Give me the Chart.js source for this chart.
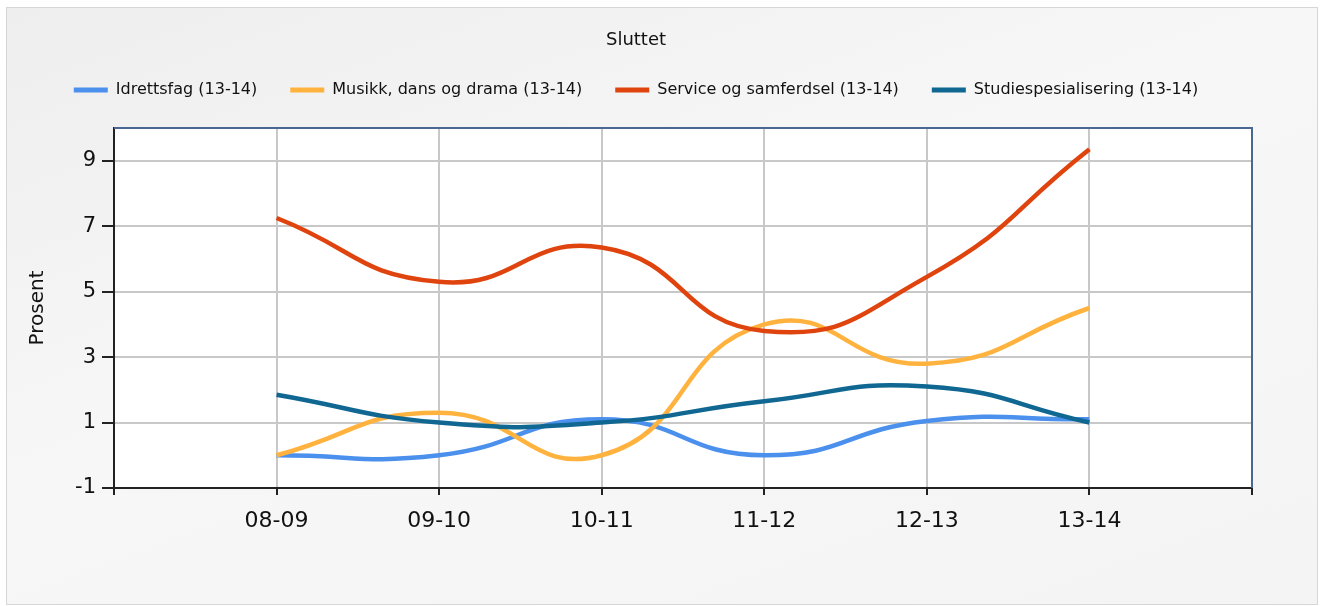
<!DOCTYPE html>
<html lang="no">
<head>
  <meta charset="UTF-8" />
  <title>Sluttet</title>
  <script src="https://cdn.jsdelivr.net/npm/chart.js"></script>
  <style>
    html, body {
      margin: 0;
      padding: 0;
      background: #ffffff;
    }

    .frame {
      position: absolute;
      left: 6px;
      top: 7px;
      width: 1310px;
      height: 596px;
      border: 1px solid #d6d6d6;
      background: linear-gradient(160deg, #eeeeee 0%, #f7f7f7 45%, #f4f4f4 100%);
    }

    .chart-box {
      position: absolute;
      left: 0;
      top: 0;
      width: 1326px;
      height: 606px;
    }
  </style>
</head>
<body>
  <div class="frame"></div>
  <div class="chart-box">
    <canvas id="sluttetChart"></canvas>
  </div>

  <script>
    const categories = ['08-09', '09-10', '10-11', '11-12', '12-13', '13-14'];
    const yTicks = [-1, 1, 3, 5, 7, 9];

    const seriesNames = [
      'Idrettsfag (13-14)',
      'Musikk, dans og drama (13-14)',
      'Service og samferdsel (13-14)',
      'Studiespesialisering (13-14)'
    ];
    const idrettsfag = [0.0, 0.0, 1.1, 0.0, 1.05, 1.1];
    const musikk = [0.0, 1.3, 0.0, 4.0, 2.8, 4.5];
    const service = [7.25, 5.3, 6.35, 3.8, 5.45, 9.35];
    const studie = [1.85, 1.0, 1.0, 1.65, 2.1, 1.0];

    const seriesValues = [idrettsfag, musikk, service, studie];
    const seriesColors = ['#4a90ec', '#ffb33e', '#e0440e', '#0f6792'];

    const font = 'DejaVu Sans';

    // white plot background plus the blue-grey top/right frame
    const plotFrame = {
      id: 'plotFrame',
      beforeUpdate(chart) {
        // leave some room between the legend row and the plot
        const lg = chart.legend;
        if (lg && !lg._extraRoom) {
          const fit = lg.fit.bind(lg);
          lg.fit = function () {
            fit();
            this.height += 20;
          };
          lg._extraRoom = true;
        }
      },
      beforeDraw(chart) {
        const a = chart.chartArea;
        const ctx = chart.ctx;
        ctx.save();
        ctx.fillStyle = '#ffffff';
        ctx.fillRect(a.left, a.top, a.right - a.left, a.bottom - a.top);
        ctx.restore();
      },
      afterDraw(chart) {
        const a = chart.chartArea;
        const ctx = chart.ctx;
        ctx.save();
        ctx.strokeStyle = '#4a6794';
        ctx.lineWidth = 2;
        ctx.beginPath();
        ctx.moveTo(a.left, a.top);
        ctx.lineTo(a.right, a.top);
        ctx.lineTo(a.right, a.bottom);
        ctx.stroke();
        ctx.restore();
      }
    };

    const datasets = seriesValues.map((vals, i) => ({
      label: seriesNames[i],
      data: vals.map((v, j) => ({ x: j + 1, y: v })),
      borderColor: seriesColors[i],
      backgroundColor: seriesColors[i],
      borderWidth: 4.5,
      pointRadius: 0,
      tension: 0.5,
      fill: false,
      order: seriesValues.length - i
    }));

    new Chart(document.getElementById('sluttetChart'), {
      type: 'line',
      data: { datasets: datasets },
      plugins: [plotFrame],
      options: {
        responsive: true,
        maintainAspectRatio: false,
        animation: false,
        layout: {
          padding: { left: 20, right: 74, top: 10, bottom: 60 }
        },
        plugins: {
          tooltip: { enabled: false },
          title: {
            display: true,
            text: 'Sluttet',
            color: '#111111',
            font: { family: font, size: 18, weight: 'normal', lineHeight: 1 },
            padding: { top: 21, bottom: 0 }
          },
          legend: {
            display: true,
            labels: {
              font: { family: font, size: 16 },
              color: '#111111',
              boxWidth: 34,
              boxHeight: 5,
              padding: 33,
              sort: (a, b) => a.datasetIndex - b.datasetIndex,
              generateLabels(chart) {
                return Chart.defaults.plugins.legend.labels.generateLabels(chart).map(item => {
                  item.lineWidth = 0;
                  item.fillStyle = seriesColors[item.datasetIndex];
                  return item;
                });
              }
            }
          }
        },
        scales: {
          x: {
            type: 'linear',
            min: 0,
            max: categories.length + 1,
            afterBuildTicks(scale) {
              const t = [];
              for (let i = 0; i <= categories.length + 1; i++) t.push({ value: i });
              scale.ticks = t;
            },
            afterFit(scale) {
              scale.height = 58;
            },
            ticks: {
              color: '#111111',
              font: { family: font, size: 22 },
              padding: 13,
              maxRotation: 0,
              autoSkip: false,
              callback: v => categories[v - 1] || ''
            },
            grid: {
              color: c => (c.tick && (c.tick.value === 0 || c.tick.value === categories.length + 1)) ? 'rgba(0,0,0,0)' : '#c8c8c8',
              lineWidth: 2,
              tickColor: '#222222',
              tickLength: 7,
              tickWidth: 2
            },
            border: { color: '#222222', width: 2 }
          },
          y: {
            min: -1,
            max: 10,
            afterBuildTicks(scale) {
              scale.ticks = yTicks.map(v => ({ value: v }));
            },
            afterFit(scale) {
              scale.width = 94;
            },
            title: {
              display: true,
              text: 'Prosent',
              color: '#111111',
              font: { family: font, size: 20 },
              padding: { top: 6, bottom: 0 }
            },
            ticks: {
              color: '#111111',
              font: { family: font, size: 21 },
              padding: 6
            },
            grid: {
              color: '#c8c8c8',
              lineWidth: 2,
              tickColor: '#222222',
              tickLength: 12,
              tickWidth: 2
            },
            border: { color: '#222222', width: 2 }
          }
        }
      }
    });
  </script>
</body>
</html>
